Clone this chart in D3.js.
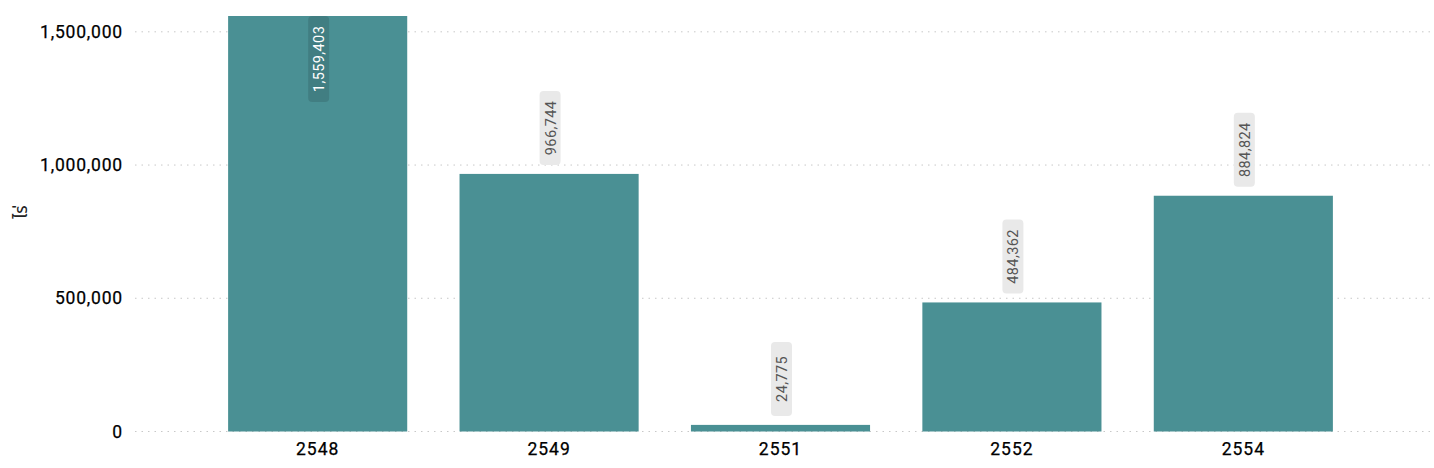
<!DOCTYPE html>
<html><head><meta charset="utf-8">
<script src="https://cdn.jsdelivr.net/npm/d3@7"></script>
<style>body{margin:0;background:#fff}svg{display:block}</style>
</head><body>
<svg id="c" width="1434" height="468"></svg>
<script>
const categories = ["2548","2549","2551","2552","2554"];
const values = [1559403, 966744, 24775, 484362, 884824];
const yTicks = [0, 500000, 1000000, 1500000];
const yTitle = "ไร่";

(function () {
const svg = d3.select("#c");
const mLeft = 135, mRight = 1430, mTop = 16, mBottom = 431.5;
const x = d3.scaleBand().domain(categories).range([mLeft - 2, mRight - 2]).paddingInner(0.226).paddingOuter(0.411);
const y = d3.scaleLinear().domain([0, 1559403]).range([mBottom, mTop]);
const fmt = d3.format(",");
const font = "Roboto, 'DejaVu Sans', sans-serif";

// gridlines
svg.append("g").selectAll("line").data(yTicks).join("line")
  .attr("x1", mLeft).attr("x2", mRight)
  .attr("y1", d => y(d)).attr("y2", d => y(d))
  .attr("stroke", "#c8c8c8").attr("stroke-width", 1).attr("stroke-dasharray", "1.5,5");

// y axis
const ya = svg.append("g").attr("transform", `translate(${mLeft},0)`)
  .call(d3.axisLeft(y).tickValues(yTicks).tickFormat(fmt).tickSize(0).tickPadding(12));
ya.select(".domain").remove();
ya.selectAll("text").attr("font-family", font).attr("font-size", 17.5).attr("letter-spacing", "0.8px").attr("fill", "#000").attr("stroke", "#000").attr("stroke-width", 0.25);

// x axis
const xa = svg.append("g").attr("transform", `translate(0,${mBottom})`)
  .call(d3.axisBottom(x).tickSize(0).tickPadding(11));
xa.select(".domain").remove();
xa.selectAll("text").attr("font-family", font).attr("font-size", 17.5).attr("letter-spacing", "1px").attr("fill", "#000").attr("stroke", "#000").attr("stroke-width", 0.25);

// y title
svg.append("text").attr("transform", "translate(27,212) rotate(-90)")
  .attr("text-anchor", "middle").attr("font-family", "'Noto Sans', 'Noto Sans Thai', sans-serif")
  .attr("font-size", 17).attr("fill", "#222").text(yTitle);

// bars
svg.append("g").selectAll("rect").data(values).join("rect")
  .attr("x", (d, i) => x(categories[i])).attr("width", x.bandwidth())
  .attr("y", d => y(d)).attr("height", d => mBottom - y(d))
  .attr("fill", "#4a9094");

// labels
const lw = 21, lh = 74;
const lg = svg.append("g");
values.forEach((v, i) => {
  const cx = x(categories[i]) + x.bandwidth() / 2;
  const inside = y(v) - 9 - lh < 5;
  const by = inside ? y(v) : y(v) - 9 - lh;
  const h = inside ? 86 : lh;
  lg.append("rect").attr("x", cx - lw / 2 + 1).attr("y", by).attr("width", lw).attr("height", h)
    .attr("rx", 4).attr("fill", inside ? "rgba(0,0,0,0.12)" : "#e9e9e9");
  lg.append("text").attr("transform", `translate(${cx + 6.5},${by + h / 2}) rotate(-90)`)
    .attr("text-anchor", "middle").attr("font-family", font).attr("font-size", 14.5)
    .attr("letter-spacing", "0.4px")
    .attr("fill", inside ? "#fff" : "#555").text(fmt(v));
});
})();
</script>
</body></html>
